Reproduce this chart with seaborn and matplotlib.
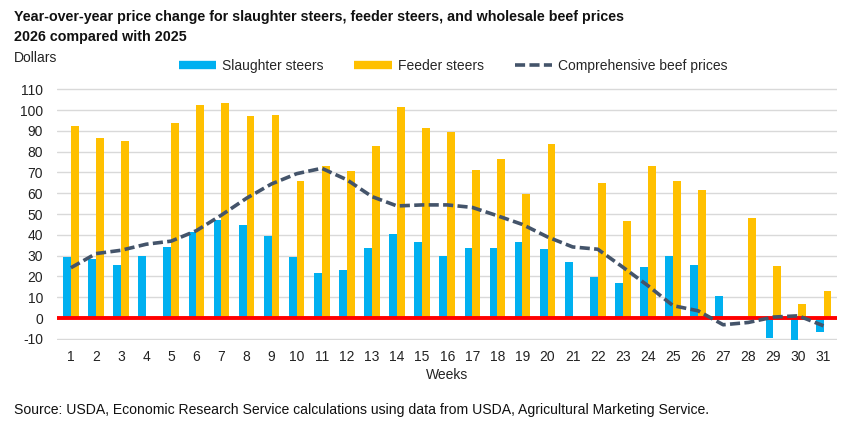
import numpy as np
import pandas as pd
import matplotlib
matplotlib.use("Agg")
import matplotlib.pyplot as plt
from matplotlib.lines import Line2D
import seaborn as sns

weeks = list(range(1, 32))
slaughter = [29.2, 28.5, 25.3, 29.7, 34.4, 41.3, 47.3, 44.8, 39.4, 29.2,
             21.9, 23.0, 33.7, 40.3, 36.5, 29.8, 33.7, 33.7, 36.5, 33.1,
             26.9, 19.7, 16.9, 24.7, 29.8, 25.3, 10.6, np.nan, -9.4, -10.3, -6.9]
feeder = [92.5, 86.5, 85.0, np.nan, 93.8, 102.2, 103.3, 97.2, 97.7, 66.0,
          73.2, 70.5, 82.7, 101.5, 91.6, 89.4, 71.1, 76.6, 59.8, 83.8,
          np.nan, 64.8, 46.9, 73.2, 66.0, 61.6, np.nan, 48.1, 25.2, 6.8, 12.9]
beef = [24.2, 31.0, 32.6, 35.5, 37.0, 42.0, 49.5, 57.6, 64.5, 69.4,
        72.0, 66.5, 58.4, 53.9, 54.4, 54.4, 53.2, 49.2, 45.0, 39.0,
        34.2, 33.1, 24.5, 15.6, 6.0, 3.5, -3.2, -2.1, 0.5, 1.1, -3.7]

series_names = ["Slaughter steers", "Feeder steers"]
line_name = "Comprehensive beef prices"
title = "Year-over-year price change for slaughter steers, feeder steers, and wholesale beef prices\n2026 compared with 2025"
source = "Source: USDA, Economic Research Service calculations using data from USDA, Agricultural Marketing Service."

blue = "#00B0F0"
gold = "#FFC000"
slate = "#44546A"
dash = (0, (2.8, 1.2))

df = pd.DataFrame({
    "Week": weeks * 2,
    "Value": slaughter + feeder,
    "Series": [series_names[0]] * 31 + [series_names[1]] * 31,
}).dropna()
line_df = pd.DataFrame({"Week": weeks, "Value": beef})

sns.set_theme(style="white")
plt.rcParams["font.family"] = ["Liberation Sans", "DejaVu Sans"]
plt.rcParams["axes.unicode_minus"] = False

fig = plt.figure(figsize=(8.65, 4.26), dpi=100)
ax = fig.add_axes([0.066, 0.202, 0.902, 0.591])

sns.barplot(data=df, x="Week", y="Value", hue="Series", hue_order=series_names,
            palette=[blue, gold], native_scale=True, width=0.62, gap=0,
            dodge=True, ax=ax, legend=False, saturation=1, linewidth=0,
            edgecolor="none")
ax.axhline(0, color="#FF0000", lw=2.8, zorder=3)
sns.lineplot(data=line_df, x="Week", y="Value", color=slate, lw=2.6, ax=ax, zorder=4)
ax.lines[-1].set_linestyle(dash)

ax.set_xlim(0.45, 31.55)
ax.set_ylim(-10.5, 110.5)
ax.set_yticks(range(-10, 111, 10))
ax.set_xticks(weeks)
ax.set_xticklabels([str(w) for w in weeks])
ax.yaxis.grid(True, color="#D9D9D9", lw=1)
ax.set_axisbelow(True)
for s in ax.spines.values():
    s.set_visible(False)
ax.tick_params(axis="both", length=0, labelsize=10, colors="#222222")
ax.tick_params(axis="x", pad=7)
ax.tick_params(axis="y", pad=10)
ax.set_xlabel("Weeks", fontsize=10, color="#222222", labelpad=3)
ax.set_ylabel("")

fig.text(0.016, 0.977, title, fontsize=10.3, fontweight="bold", va="top",
         ha="left", color="#111111", linespacing=1.6)
fig.text(0.016, 0.864, "Dollars", fontsize=10, va="center", ha="left", color="#222222")
fig.text(0.016, 0.037, source, fontsize=10.1, va="center", ha="left", color="#111111")

handles = [Line2D([0], [0], color=blue, lw=6, solid_capstyle="butt"),
           Line2D([0], [0], color=gold, lw=6, solid_capstyle="butt"),
           Line2D([0], [0], color=slate, lw=2.6, linestyle=dash, dash_capstyle="butt")]
fig.legend(handles, series_names + [line_name], loc="center",
           bbox_to_anchor=(0.524, 0.845), ncol=3, frameon=False, fontsize=10,
           handlelength=2.7, columnspacing=2.2, handletextpad=0.45)

fig.savefig("out.png", dpi=100)
